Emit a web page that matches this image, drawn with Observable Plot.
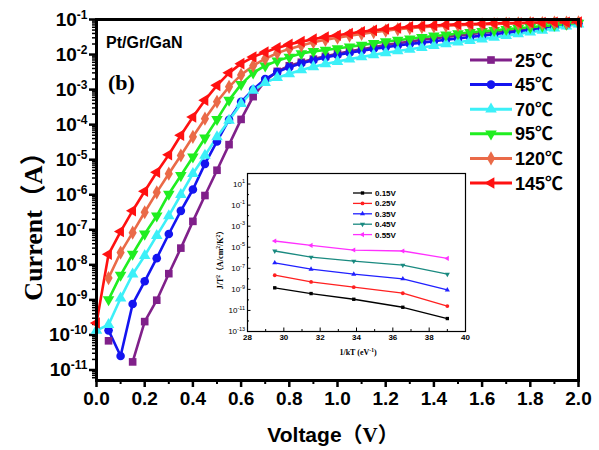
<!DOCTYPE html>
<html>
<head>
<meta charset="utf-8">
<script src="https://cdn.jsdelivr.net/npm/d3@7"></script>
<script src="https://cdn.jsdelivr.net/npm/@observablehq/plot@0.6"></script>
<style>
  body { margin: 0; background: #fff; }
  #wrap { position: relative; width: 599px; height: 450px; overflow: hidden; background: #fff; }
  #wrap svg { position: absolute; overflow: visible; }
</style>
</head>
<body>
<div id="wrap"></div>
<script>
// ---- I–V curves of the Pt/Gr/GaN Schottky contact at six temperatures ----
const voltage = [0.00,0.05,0.10,0.15,0.20,0.25,0.30,0.35,0.40,0.45,0.50,0.55,0.60,0.65,0.70,0.75,0.80,0.85,0.90,0.95,
                 1.00,1.05,1.10,1.15,1.20,1.25,1.30,1.35,1.40,1.45,1.50,1.55,1.60,1.65,1.70,1.75,1.80,1.85,1.90,1.95,2.00];
const temperatures = ["25℃","45℃","70℃","95℃","120℃","145℃"];

const current25 = [null,6.8e-11,null,1.7e-11,2.4e-10,9.8e-10,5.6e-9,3.0e-8,1.74e-7,9.5e-7,5.0e-6,2.69e-5,1.41e-4,6.3e-4,1.78e-3,3.31e-3,4.79e-3,6.03e-3,7.41e-3,8.9e-3,
                   1.05e-2,1.23e-2,1.41e-2,1.62e-2,1.86e-2,2.09e-2,2.34e-2,2.63e-2,2.88e-2,3.16e-2,3.47e-2,3.8e-2,4.17e-2,4.47e-2,4.79e-2,5.25e-2,5.62e-2,6.03e-2,6.61e-2,7.24e-2,7.94e-2];
const current45 = [null,1.35e-10,2.5e-11,7.6e-10,3.39e-9,1.55e-8,7.6e-8,3.47e-7,1.41e-6,7.6e-6,3.31e-5,1.38e-4,4.47e-4,1.0e-3,2.0e-3,3.16e-3,4.37e-3,5.62e-3,6.92e-3,8.3e-3,
                   9.8e-3,1.12e-2,1.29e-2,1.45e-2,1.62e-2,1.82e-2,2.0e-2,2.19e-2,2.4e-2,2.63e-2,2.88e-2,3.16e-2,3.47e-2,3.8e-2,4.17e-2,4.57e-2,5.0e-2,5.5e-2,6.17e-2,6.92e-2,7.76e-2];
const current70 = [1.35e-10,1.95e-10,1.12e-9,5.4e-9,1.82e-8,6.8e-8,2.5e-7,1.0e-6,3.98e-6,1.32e-5,4.47e-5,1.32e-4,3.98e-4,9.5e-4,1.58e-3,2.19e-3,2.82e-3,3.63e-3,4.47e-3,5.37e-3,
                   6.31e-3,7.41e-3,8.5e-3,9.8e-3,1.12e-2,1.26e-2,1.41e-2,1.58e-2,1.78e-2,2.0e-2,2.24e-2,2.51e-2,2.75e-2,3.09e-2,3.47e-2,3.89e-2,4.37e-2,4.9e-2,5.62e-2,6.46e-2,7.41e-2];
const current95 = [null,1.02e-9,5.1e-9,2.04e-8,7.6e-8,2.5e-7,1.05e-6,3.55e-6,1.2e-5,4.17e-5,1.41e-4,5.0e-4,1.41e-3,3.0e-3,4.8e-3,6.6e-3,8.5e-3,1.07e-2,1.23e-2,1.35e-2,
                   1.48e-2,1.66e-2,1.86e-2,2.09e-2,2.34e-2,2.57e-2,2.82e-2,3.09e-2,3.39e-2,3.63e-2,3.98e-2,4.27e-2,4.57e-2,4.9e-2,5.25e-2,5.62e-2,6.03e-2,6.46e-2,6.92e-2,7.41e-2,7.94e-2];
const current120 = [null,4.2e-9,2.24e-8,8.3e-8,3.16e-7,1.17e-6,3.98e-6,1.32e-5,4.5e-5,1.48e-4,4.5e-4,1.2e-3,2.63e-3,4.8e-3,7.6e-3,1.1e-2,1.45e-2,1.82e-2,2.24e-2,2.63e-2,
                    3.02e-2,3.47e-2,3.89e-2,4.37e-2,4.79e-2,5.25e-2,5.62e-2,6.03e-2,6.31e-2,6.61e-2,6.92e-2,7.08e-2,7.24e-2,7.41e-2,7.59e-2,7.76e-2,7.94e-2,7.94e-2,8.13e-2,8.13e-2,8.32e-2];
const current145 = [2.2e-10,2.0e-8,8.9e-8,3.5e-7,1.26e-6,4.4e-6,1.38e-5,5.0e-5,1.66e-4,5.0e-4,1.32e-3,3.0e-3,5.5e-3,8.5e-3,1.17e-2,1.55e-2,1.95e-2,2.34e-2,2.75e-2,3.16e-2,
                    3.55e-2,3.98e-2,4.47e-2,4.9e-2,5.37e-2,5.75e-2,6.17e-2,6.46e-2,6.76e-2,7.08e-2,7.24e-2,7.41e-2,7.59e-2,7.76e-2,7.94e-2,7.94e-2,8.13e-2,8.13e-2,8.32e-2,8.32e-2,8.5e-2];

const xTicks = [0,0.2,0.4,0.6,0.8,1.0,1.2,1.4,1.6,1.8,2.0];
const xTickLabels = ["0.0","0.2","0.4","0.6","0.8","1.0","1.2","1.4","1.6","1.8","2.0"];
const yTicks = [1e-11,1e-10,1e-9,1e-8,1e-7,1e-6,1e-5,1e-4,1e-3,1e-2,1e-1];
const yTickExponents = ["-11","-10","-9","-8","-7","-6","-5","-4","-3","-2","-1"];

// ---- Inset: Richardson-type plot J/T² vs 1/kT at five biases ----
const invKT = [29.5, 31.5, 33.85, 36.55, 39.0];
const biases = ["0.15V","0.25V","0.35V","0.45V","0.55V"];
const jt015 = [1.4e-9, 4.0e-10, 1.15e-10, 2.0e-11, 1.7e-12];
const jt025 = [2.2e-8, 5.1e-9, 1.6e-9, 4.3e-10, 2.6e-11];
const jt035 = [3.3e-7, 8.3e-8, 2.75e-8, 1.0e-8, 8.9e-10];
const jt045 = [4.4e-6, 1.15e-6, 4.8e-7, 2.0e-7, 2.75e-8];
const jt055 = [3.9e-5, 1.5e-5, 5.4e-6, 4.4e-6, 8.7e-7];
const insetXTicks = [28,30,32,34,36,38,40];
const insetYTicks = [1e1,1e-1,1e-3,1e-5,1e-7,1e-9,1e-11,1e-13];
const insetYExponents = ["1","-1","-3","-5","-7","-9","-11","-13"];

// marker shapes: d3 has no down/left triangles, so define them
const sqrt3 = Math.sqrt(3);
const triangleDown = {draw(ctx, size) {
  const y = -Math.sqrt(size / (sqrt3 * 3));
  ctx.moveTo(0, -y * 2); ctx.lineTo(-sqrt3 * y, y); ctx.lineTo(sqrt3 * y, y); ctx.closePath();
}};
const triangleLeft = {draw(ctx, size) {
  const y = -Math.sqrt(size / (sqrt3 * 3));
  ctx.moveTo(y * 2, 0); ctx.lineTo(-y, -sqrt3 * y); ctx.lineTo(-y, sqrt3 * y); ctx.closePath();
}};

const sans = "'Liberation Sans', Arial, 'Noto Sans CJK SC', sans-serif";
const serif = "'Liberation Serif', 'Times New Roman', 'Noto Sans CJK SC', serif";

const series = [
  {name: temperatures[0], values: current25,  color: "#80208a", symbol: d3.symbolSquare},
  {name: temperatures[1], values: current45,  color: "#1414f0", symbol: d3.symbolCircle},
  {name: temperatures[2], values: current70,  color: "#3cf0f8", symbol: d3.symbolTriangle},
  {name: temperatures[3], values: current95,  color: "#20ee20", symbol: triangleDown},
  {name: temperatures[4], values: current120, color: "#ea6a48", symbol: d3.symbolDiamond},
  {name: temperatures[5], values: current145, color: "#ff1111", symbol: triangleLeft}
];
const rows = series.flatMap(s => voltage.map((v, i) => ({V: v, I: s.values[i], T: s.name})));

const minorX = d3.range(0.1, 2, 0.2);
const minorY = [];
for (let e = -12; e <= -2; e++) for (let m = 2; m <= 9; m++) {
  const v = m * Math.pow(10, e);
  if (v > Math.pow(10, -11.3) && v < 0.1) minorY.push(v);
}

const main = Plot.plot({
  width: 599, height: 450,
  marginLeft: 96, marginRight: 21, marginTop: 19, marginBottom: 70,
  style: {fontFamily: sans, background: "transparent", overflow: "visible"},
  x: {domain: [0, 2]},
  y: {type: "log", domain: [Math.pow(10, -11.3), 0.1]},
  color: {domain: temperatures, range: series.map(s => s.color)},
  marks: [
    Plot.axisX(minorX, {tickSize: 4, strokeWidth: 2, tickFormat: () => "", label: null}),
    Plot.axisX({ticks: xTicks, tickSize: 7, strokeWidth: 2.5, tickPadding: 4,
      tickFormat: d => xTickLabels[xTicks.findIndex(t => Math.abs(t - d) < 1e-9)],
      fontSize: 19, fontWeight: "bold", label: null}),
    Plot.axisY(minorY, {tickSize: 4, strokeWidth: 1.5, tickFormat: () => "", label: null}),
    Plot.axisY({ticks: yTicks, tickSize: 7, strokeWidth: 2.5, tickPadding: 2,
      tickFormat: d => "10^" + yTickExponents[yTicks.indexOf(d)],
      fontSize: 19, fontWeight: "bold", label: null}),
    Plot.line(rows, {x: "V", y: "I", z: "T", stroke: "T", strokeWidth: 2.6}),
    ...series.map(s => Plot.dot(rows.filter(r => r.T === s.name && r.I != null),
      {x: "V", y: "I", fill: s.color, symbol: s.symbol, r: 4.3})),
    Plot.frame({stroke: "black", strokeWidth: 3})
  ]
});

function superscriptLabels(svg, supSize, shift) {
  d3.select(svg).selectAll('g[aria-label="y-axis tick label"] text').each(function () {
    const parts = this.textContent.split("^");
    if (parts.length < 2) return;
    const t = d3.select(this);
    t.text(parts[0]);
    t.append("tspan").attr("dy", shift).attr("font-size", supSize).text(parts[1]);
  });
}
superscriptLabels(main, 12, "-0.55em");

const g = d3.select(main);
// axis titles
const xt = g.append("text").attr("x", 333).attr("y", 442).attr("text-anchor", "middle")
  .attr("font-size", 21).attr("font-weight", "bold");
xt.append("tspan").attr("font-family", sans).text("Voltage");
xt.append("tspan").attr("font-family", serif).text("（V）");
g.append("text").attr("transform", "translate(42,220) rotate(-90)").attr("text-anchor", "middle")
  .attr("font-family", serif).attr("font-size", 26).attr("font-weight", "bold").text("Current（A）");
// annotations
g.append("text").attr("x", 106).attr("y", 48).attr("text-anchor", "start").attr("font-family", sans)
  .attr("font-size", 16).attr("font-weight", "bold").text("Pt/Gr/GaN");
g.append("text").attr("x", 108).attr("y", 90).attr("text-anchor", "start").attr("font-family", serif)
  .attr("font-size", 22).attr("font-weight", "bold").text("(b)");
// legend
series.forEach((s, i) => {
  const cy = 60 + i * 24.6;
  const item = g.append("g").attr("transform", `translate(0,${cy})`);
  item.append("line").attr("x1", 470).attr("x2", 512).attr("stroke", s.color).attr("stroke-width", 3);
  item.append("path").attr("transform", "translate(491,0)")
    .attr("d", d3.symbol().type(s.symbol).size(4.3 * 4.3 * Math.PI)()).attr("fill", s.color);
  item.append("text").attr("x", 515).attr("y", 6.5).attr("text-anchor", "start").attr("font-family", sans)
    .attr("font-size", 18).attr("font-weight", "bold").text(s.name);
});
main.style.left = "0px"; main.style.top = "0px";
document.getElementById("wrap").appendChild(main);

// ---- inset chart ----
const insetSeries = [
  {name: biases[0], values: jt015, color: "#000000", symbol: d3.symbolSquare},
  {name: biases[1], values: jt025, color: "#ff2020", symbol: d3.symbolCircle},
  {name: biases[2], values: jt035, color: "#2020ff", symbol: d3.symbolTriangle},
  {name: biases[3], values: jt045, color: "#1a8a80", symbol: triangleDown},
  {name: biases[4], values: jt055, color: "#ff30ff", symbol: triangleLeft}
];
const insetRows = insetSeries.flatMap(s => invKT.map((x, i) => ({x, y: s.values[i], b: s.name})));
const insetMinorX = d3.range(29, 40, 2);
const insetMinorY = [1e2,1e0,1e-2,1e-4,1e-6,1e-8,1e-10,1e-12];

const inset = Plot.plot({
  width: 265, height: 195,
  marginLeft: 42, marginTop: 3, marginRight: 5, marginBottom: 34,
  style: {fontFamily: sans, background: "transparent", overflow: "visible"},
  x: {domain: [28, 40]},
  y: {type: "log", domain: [1e-13, 1e2]},
  color: {domain: biases, range: insetSeries.map(s => s.color)},
  marks: [
    Plot.frame({fill: "white", stroke: "none"}),
    Plot.axisX(insetMinorX, {tickSize: -2, tickPadding: 0, strokeWidth: 1, tickFormat: () => "", label: null}),
    Plot.axisX({ticks: insetXTicks, tickSize: -3.5, tickPadding: 6, strokeWidth: 1, fontSize: 8,
      fontWeight: "bold", tickFormat: d => String(d), label: null}),
    Plot.axisY(insetMinorY, {tickSize: -2, tickPadding: 0, strokeWidth: 1, tickFormat: () => "", label: null}),
    Plot.axisY({ticks: insetYTicks, tickSize: -3.5, tickPadding: 6, strokeWidth: 1, fontSize: 8,
      tickFormat: d => "10^" + insetYExponents[insetYTicks.indexOf(d)], label: null}),
    Plot.line(insetRows, {x: "x", y: "y", z: "b", stroke: "b", strokeWidth: 1.3}),
    ...insetSeries.map(s => Plot.dot(insetRows.filter(r => r.b === s.name),
      {x: "x", y: "y", fill: s.color, symbol: s.symbol, r: 1.9})),
    Plot.frame({stroke: "black", strokeWidth: 1.2})
  ]
});
superscriptLabels(inset, 5.5, "-0.6em");
const gi = d3.select(inset);
insetSeries.forEach((s, i) => {
  const cy = 23 + i * 10.4;
  const item = gi.append("g").attr("transform", `translate(0,${cy})`);
  item.append("line").attr("x1", 148).attr("x2", 167).attr("stroke", s.color).attr("stroke-width", 1.3);
  item.append("path").attr("transform", "translate(157.5,0)")
    .attr("d", d3.symbol().type(s.symbol).size(1.9 * 1.9 * Math.PI)()).attr("fill", s.color);
  item.append("text").attr("x", 170).attr("y", 3).attr("text-anchor", "start").attr("font-family", sans)
    .attr("font-size", 8).attr("font-weight", "bold").text(s.name);
});
const il = gi.append("text").attr("x", 153).attr("y", 185).attr("text-anchor", "middle")
  .attr("font-family", serif).attr("font-size", 8).attr("font-weight", "bold");
il.append("tspan").text("1/kT (eV");
il.append("tspan").attr("dy", -3).attr("font-size", 5.5).text("-1");
il.append("tspan").attr("dy", 3).text(")");
const yl = gi.append("text").attr("transform", "translate(18,88) rotate(-90)").attr("text-anchor", "middle")
  .attr("font-family", serif).attr("font-size", 8).attr("font-weight", "bold");
yl.append("tspan").text("J/T");
yl.append("tspan").attr("dy", -3).attr("font-size", 5.5).text("2");
yl.append("tspan").attr("dy", 3).text("（A/cm");
yl.append("tspan").attr("dy", -3).attr("font-size", 5.5).text("2");
yl.append("tspan").attr("dy", 3).text("/K");
yl.append("tspan").attr("dy", -3).attr("font-size", 5.5).text("2");
yl.append("tspan").attr("dy", 3).text("）");
inset.style.left = "205px"; inset.style.top = "170px";
document.getElementById("wrap").appendChild(inset);
</script>
</body>
</html>
